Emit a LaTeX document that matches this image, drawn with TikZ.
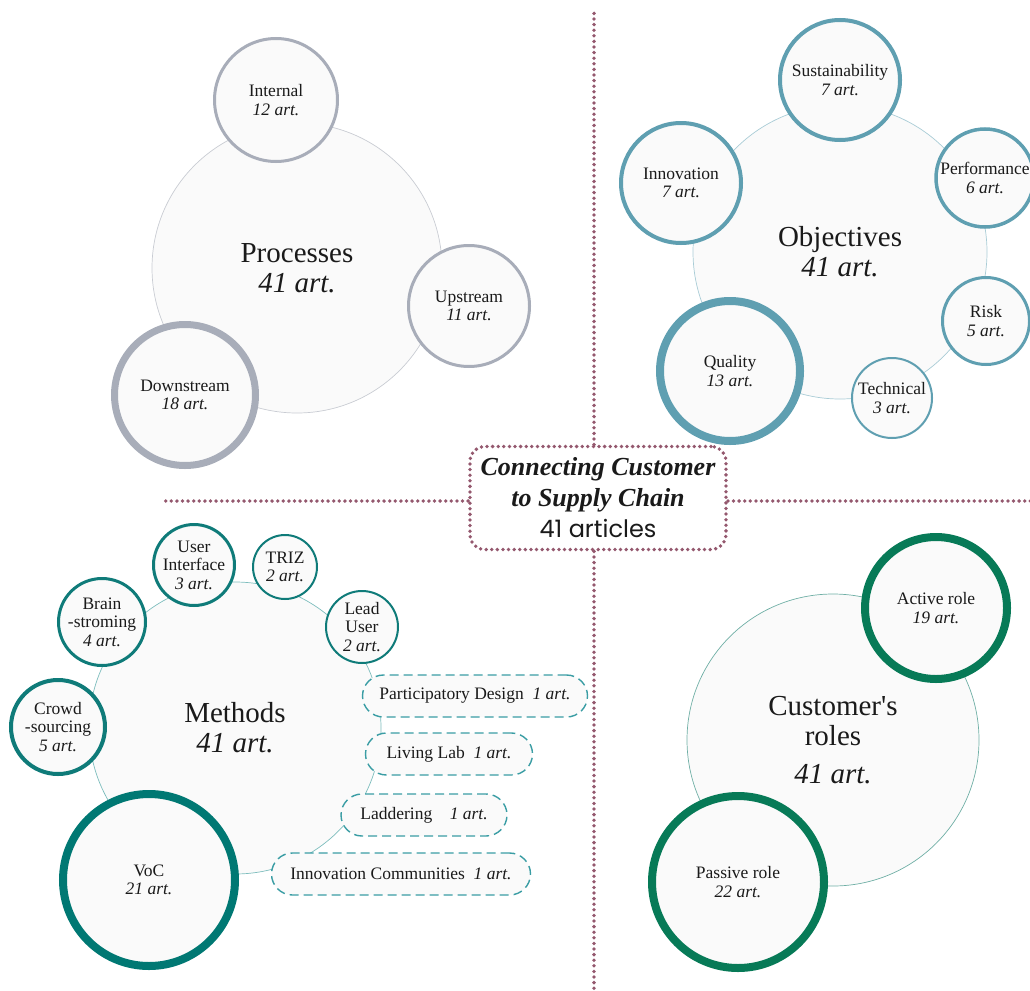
\documentclass[tikz,border=0pt]{standalone}
\usepackage{fontspec}
\setmainfont{Liberation Serif}
\newfontfamily\titlesans{Poppins}

\definecolor{procgray}{HTML}{A8ADB9}
\definecolor{procline}{HTML}{C9CCD3}
\definecolor{objblue}{HTML}{5F9FB1}
\definecolor{objline}{HTML}{A9CCD6}
\definecolor{methteal}{HTML}{0F7B79}
\definecolor{vocteal}{HTML}{007873}
\definecolor{methline}{HTML}{7DBDBD}
\definecolor{pillteal}{HTML}{3A9DA4}
\definecolor{custgreen}{HTML}{077A57}
\definecolor{custline}{HTML}{6FAFA5}
\definecolor{mauve}{HTML}{94586E}
\definecolor{nodefill}{HTML}{FAFAFA}
\definecolor{inktext}{HTML}{1A1A1A}

\begin{document}
\begin{tikzpicture}[x=1pt,y=-1pt,
  bigcircle/.style={circle,draw=#1,line width=0.7pt,fill=nodefill,inner sep=0pt,
    align=center,text=inktext,font=\fontsize{29}{30}\selectfont},
  subcircle/.style 2 args={circle,draw=#1,line width=#2,fill=nodefill,inner sep=0pt,
    align=center,text=inktext,font=\fontsize{17.5}{18.5}\selectfont},
  pill/.style={rectangle,rounded corners=21pt,draw=pillteal,line width=1.4pt,
    dash pattern=on 9pt off 5pt,fill=nodefill,minimum height=42pt,inner sep=0pt,
    text=inktext,font=\fontsize{17.5}{18.5}\selectfont},
  divider/.style={draw=mauve,line width=3.8pt,line cap=round,dash pattern=on 0pt off 5.6pt}]

  \useasboundingbox (0,0) rectangle (1030,990);

  % Central title box
  \node[divider,rectangle,rounded corners=15pt,minimum width=256pt,minimum height=103pt,
        inner sep=0pt,align=center,text=inktext,font=\fontsize{26}{31}\selectfont]
    (title) at (598,498)
    {{\bfseries\itshape Connecting Customer}\\{\bfseries\itshape to Supply Chain}\\{\titlesans\fontsize{24}{31}\selectfont 41 articles}};

  % Divider ends
  \coordinate (vtop) at (594,11);
  \coordinate (vbot) at (594,992);
  \coordinate (hleft) at (163,501);
  \coordinate (hright) at (1032,501);

  \draw[divider] (title.north -| vtop) -- (vtop);
  \draw[divider] (title.south -| vbot) -- (vbot);
  \draw[divider] (title.west |- hleft) -- (hleft);
  \draw[divider] (title.east |- hright) -- (hright);

  % Processes
  \node[bigcircle=procline,minimum size=290pt] (proc) at (297,268) {Processes\\\textit{41 art.}};
  \node[subcircle={procgray}{3pt},minimum size=123pt] (internal) at (276,100) {Internal\\\textit{12 art.}};
  \node[subcircle={procgray}{3pt},minimum size=121pt] (upstream) at (469,306) {Upstream\\\textit{11 art.}};
  \node[subcircle={procgray}{7pt},minimum size=141pt] (downstream) at (185,395) {Downstream\\\textit{18 art.}};

  % Objectives
  \node[bigcircle=objline,minimum size=294pt] (obj) at (840,252) {Objectives\\\textit{41 art.}};
  \node[subcircle={objblue}{4pt},minimum size=120pt] (sustain) at (840,80) {Sustainability\\\textit{7 art.}};
  \node[subcircle={objblue}{4pt},minimum size=120pt] (innov) at (681,183) {Innovation\\\textit{7 art.}};
  \node[subcircle={objblue}{3.5pt},minimum size=98pt] (perf) at (985,178) {Performance\\\textit{6 art.}};
  \node[subcircle={objblue}{3pt},minimum size=87pt] (risk) at (986,321) {Risk\\\textit{5 art.}};
  \node[subcircle={objblue}{2pt},minimum size=80pt] (technical) at (892,398) {Technical\\\textit{3 art.}};
  \node[subcircle={objblue}{8pt},minimum size=140pt] (quality) at (730,371) {Quality\\\textit{13 art.}};

  % Methods
  \node[bigcircle=methline,minimum size=292pt] (meth) at (235,728) {Methods\\\textit{41 art.}};
  \node[subcircle={methteal}{3pt},minimum size=81pt] (userint) at (194,565) {User\\Interface\\\textit{3 art.}};
  \node[subcircle={methteal}{2pt},minimum size=64pt] (triz) at (285,567) {TRIZ\\\textit{2 art.}};
  \node[subcircle={methteal}{2pt},minimum size=72pt] (leaduser) at (362,627) {Lead\\User\\\textit{2 art.}};
  \node[subcircle={methteal}{3pt},minimum size=87pt] (brain) at (102,622) {Brain\\-stroming\\\textit{4 art.}};
  \node[subcircle={methteal}{4pt},minimum size=94pt] (crowd) at (58,727) {Crowd\\-sourcing\\\textit{5 art.}};
  \node[subcircle={vocteal}{8pt},minimum size=172pt] (voc) at (149,880) {VoC\\\textit{21 art.}};

  \node[pill,minimum width=225pt] (partdesign) at (475,696) {Participatory Design\enspace\textit{1 art.}};
  \node[pill,minimum width=167pt] (livinglab) at (449,754) {Living Lab\enspace\textit{1 art.}};
  \node[pill,minimum width=166pt] (laddering) at (424,815) {Laddering\quad\textit{1 art.}};
  \node[pill,minimum width=259pt] (innovcomm) at (401,874) {Innovation Communities\enspace\textit{1 art.}};

  % Customer's roles
  \node[bigcircle=custline,minimum size=292pt] (cust) at (833,740) {Customer\textquotesingle s\\roles\\[8pt]\textit{41 art.}};
  \node[subcircle={custgreen}{8pt},minimum size=142pt] (active) at (936,608) {Active role\\\textit{19 art.}};
  \node[subcircle={custgreen}{8pt},minimum size=172pt] (passive) at (738,882) {Passive role\\\textit{22 art.}};

\end{tikzpicture}
\end{document}
